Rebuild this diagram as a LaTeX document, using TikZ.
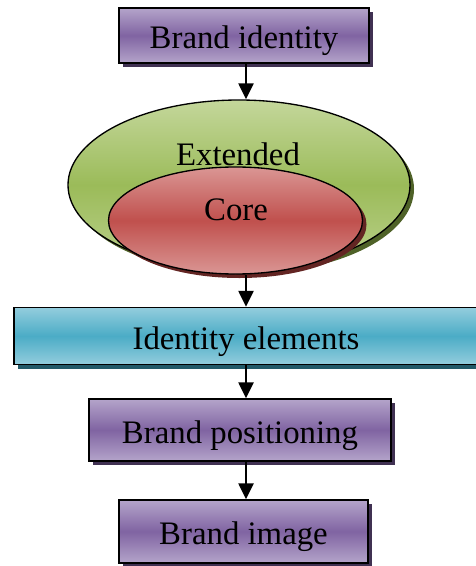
\documentclass[tikz,border=0pt]{standalone}
\usepackage{fontspec}
\setmainfont{Liberation Serif}
\usetikzlibrary{arrows.meta, positioning, shapes, shadows}
\definecolor{brpurple}{RGB}{128,100,162}
\definecolor{brpurplelt}{RGB}{180,164,202}
\definecolor{brpurpledk}{RGB}{64,49,82}
\definecolor{brgreen}{RGB}{155,187,89}
\definecolor{brgreenlt}{RGB}{196,215,155}
\definecolor{brgreendk}{RGB}{79,98,40}
\definecolor{brred}{RGB}{192,80,77}
\definecolor{brredlt}{RGB}{218,150,148}
\definecolor{brreddk}{RGB}{99,37,35}
\definecolor{brblue}{RGB}{75,172,198}
\definecolor{brbluelt}{RGB}{147,205,221}
\definecolor{brbluedk}{RGB}{33,89,104}

\tikzset{
  stagebox/.style={draw=black, line width=0.04cm, rectangle, inner sep=0pt,
    top color=brpurplelt, bottom color=brpurplelt, middle color=brpurple,
    drop shadow={shadow xshift=0.12cm, shadow yshift=-0.12cm, fill=brpurpledk, opacity=1},
    font=\fontsize{28}{34}\selectfont, text height=0.8cm, text depth=0pt},
  flow/.style={line width=0.07cm, -{Triangle[length=0.48cm, width=0.45cm]}}
}

\begin{document}
\begin{tikzpicture}[x=0.03cm, y=-0.03cm]
\useasboundingbox (0,0) rectangle (475,566);

% Identity
\node[stagebox, minimum width=7.5cm, minimum height=1.65cm] (brandid) at (244,35.5) {Brand identity};

% Extended and core
\node[ellipse, draw=black, line width=0.04cm, minimum width=10.26cm, minimum height=5.1cm,
  top color=brgreenlt, bottom color=brgreenlt!80!brgreen, middle color=brgreen,
  drop shadow={shadow xshift=0.12cm, shadow yshift=-0.12cm, fill=brgreendk, opacity=1}]
  (extended) at (239,185) {};
\node[anchor=base, font=\fontsize{28}{34}\selectfont] (extlabel) at (238,165) {Extended};
\node[ellipse, draw=black, line width=0.04cm, minimum width=7.62cm, minimum height=3.21cm,
  top color=brredlt, bottom color=brredlt, middle color=brred,
  drop shadow={shadow xshift=0.12cm, shadow yshift=-0.12cm, fill=brreddk, opacity=1}]
  (core) at (235.5,220.5) {};
\node[anchor=base, font=\fontsize{28}{34}\selectfont] (corelabel) at (236,220) {Core};

% Elements
\node[stagebox, minimum width=13.92cm, minimum height=1.71cm,
  top color=brbluelt, bottom color=brbluelt, middle color=brblue,
  drop shadow={shadow xshift=0.12cm, shadow yshift=-0.12cm, fill=brbluedk, opacity=1}]
  (elements) at (246,336) {Identity elements};

% Positioning and image
\node[stagebox, minimum width=9.06cm, minimum height=1.86cm] (positioning) at (240,430) {Brand positioning};
\node[stagebox, minimum width=7.47cm, minimum height=1.89cm] (image) at (243.5,531.5) {Brand image};

% Arrows
\draw[flow] (brandid.south -| elements) -- (extended.north -| elements);
\draw[flow] (core.south -| elements) -- (elements.north);
\draw[flow] (elements.south) -- (positioning.north -| elements);
\draw[flow] (positioning.south -| elements) -- (image.north -| elements);
\end{tikzpicture}
\end{document}
